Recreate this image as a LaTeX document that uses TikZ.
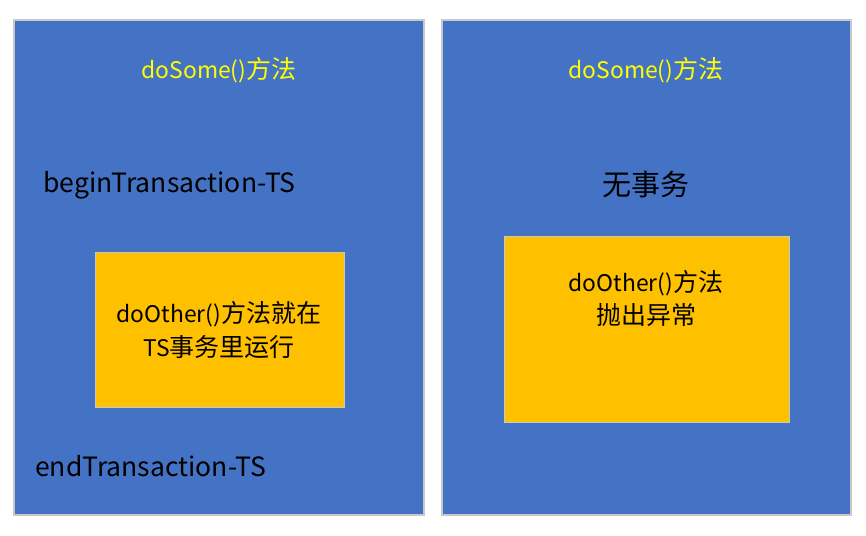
\documentclass[tikz,border=0pt]{standalone}
\usepackage{fontspec}
\setmainfont{Noto Sans CJK SC}
\newfontfamily\latf{Noto Sans CJK SC}[Scale=0.915]
\definecolor{panelblue}{HTML}{4472C4}
\definecolor{boxorange}{HTML}{FFC000}
\definecolor{titleyellow}{HTML}{FFFF00}
\definecolor{edgegray}{HTML}{C8C8C8}
\begin{document}
\begin{tikzpicture}[x=0.75pt,y=-0.75pt,
  panel/.style={rectangle,fill=panelblue,draw=edgegray,line width=0.8pt,inner sep=0pt,outer sep=0pt},
  obox/.style={rectangle,fill=boxorange,draw=edgegray,line width=0.6pt,inner sep=0pt,outer sep=0pt},
  smalltxt/.style={inner sep=0pt,font=\fontsize{18.75pt}{25pt}\selectfont},
  bigtxt/.style={inner sep=0pt,font=\fontsize{21.75pt}{28pt}\selectfont}]
\useasboundingbox[fill=white] (0,0) rectangle (866,535);
\node[panel,minimum width=307.5pt,minimum height=371.25pt] (lp) at (219,267.5) {};
\node[panel,minimum width=306.75pt,minimum height=371.25pt] (rp) at (646.5,267.5) {};
\node[obox,minimum width=186.75pt,minimum height=116.25pt] (lb) at (219.5,329.5) {};
\node[obox,minimum width=213.75pt,minimum height=139.5pt] (rb) at (646.5,329) {};
% left panel texts
\node[smalltxt,text=titleyellow] (lt) at (219,70) {{\latf doSome()}方法};
\node[bigtxt,anchor=west] (lbegin) at (43,185) {\latf beginTransaction-TS};
\node[smalltxt,align=center] (ltxt) at (219,330) {{\latf doOther()}方法就在\\{\latf TS}事务里运行};
\node[bigtxt,anchor=west] (lend) at (35,466) {\latf endTransaction-TS};
% right panel texts
\node[smalltxt,text=titleyellow] (rt) at (646,70) {{\latf doSome()}方法};
\node[bigtxt] (rno) at (646,185) {无事务};
\node[smalltxt,align=center] (rtxt) at (646,298.5) {{\latf doOther()}方法\\抛出异常};
\end{tikzpicture}
\end{document}
